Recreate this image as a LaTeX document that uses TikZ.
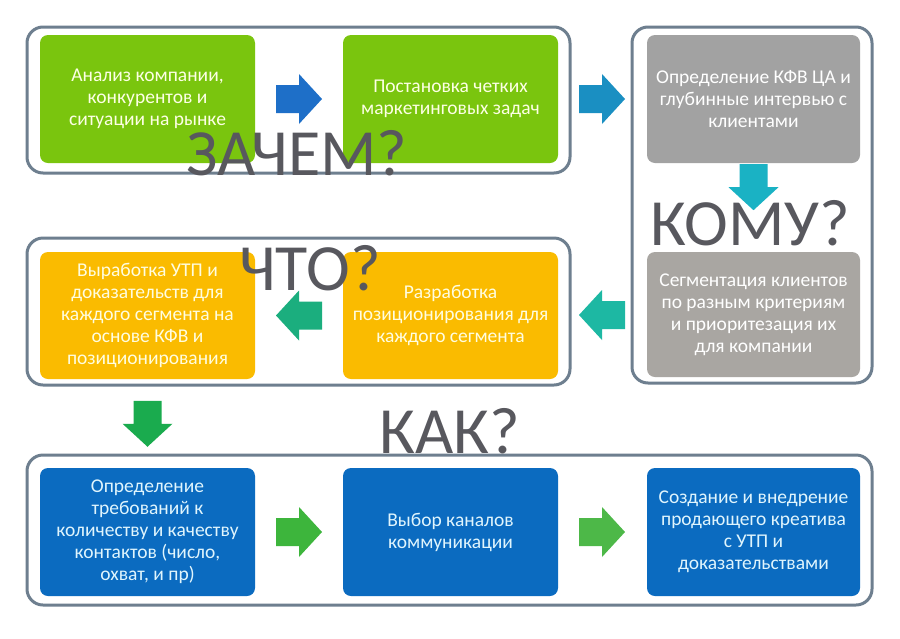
\documentclass[tikz,border=0pt]{standalone}
\usepackage{fontspec}
\setmainfont{Carlito}
\usepackage{color}
\usetikzlibrary{calc}

\definecolor{frameC}{HTML}{6E7F8F}
\definecolor{greenC}{HTML}{7AC50E}
\definecolor{grayC}{HTML}{A2A2A2}
\definecolor{grayD}{HTML}{A9A6A2}
\definecolor{yellowC}{HTML}{FABB00}
\definecolor{blueC}{HTML}{0B6BC0}
\definecolor{qC}{HTML}{58585E}
\definecolor{arA}{HTML}{1E6FC8}
\definecolor{arB}{HTML}{1A8FC2}
\definecolor{arC}{HTML}{1AB2C4}
\definecolor{arD}{HTML}{1BAE7E}
\definecolor{arE}{HTML}{1DB8A3}
\definecolor{arF}{HTML}{1AAB4E}
\definecolor{arG}{HTML}{3DB53C}
\definecolor{arH}{HTML}{4DB848}

\begin{document}
\begin{tikzpicture}
	[
		x=1pt, y=-1pt,
		F/.style = {rectangle, rounded corners=16pt, draw=frameC, line width=3pt, fill=white},
		B/.style = {rectangle, rounded corners=8pt, align=center, draw=none, inner sep=0pt,
			minimum width=215pt, minimum height=128pt, font=\fontsize{19.5}{22}\selectfont},
		Q/.style = {rectangle, draw=none, fill=none, inner sep=0pt, anchor=base, text=qC,
			font=\fontsize{66}{66}\selectfont},
		barrow/.pic = {\fill (-23,-14) -- (0,-14) -- (0,-25) -- (23,0) -- (0,25) -- (0,14) -- (-23,14) -- cycle;},
	]

	\useasboundingbox[fill=white] (0,0) rectangle (900,638);

	% frames
	\node[F, minimum width=543pt, minimum height=146pt] (f1) at (298.5,100.0) {};
	\node[F, minimum width=240pt, minimum height=356pt] (f2) at (752.0,205.0) {};
	\node[F, minimum width=543pt, minimum height=147pt] (f3) at (298.5,311.5) {};
	\node[F, minimum width=845pt, minimum height=150pt] (f4) at (449.5,530.0) {};

	% green boxes
	\node[B, fill=greenC, text=green!6!yellow!10!white] (g1) at (147.5, 99.0) {Анализ компании,\\конкурентов и\\ситуации на рынке};
	\node[B, fill=greenC, text=green!6!yellow!10!white] (g2) at (450.5, 99.0) {Постановка четких\\маркетинговых задач};

	% gray boxes
	\node[B, fill=grayC, text=white, minimum width=213pt] (c1) at (753.5, 99.0) {Определение КФВ ЦА и\\глубинные интервью с\\клиентами};
	\node[B, fill=grayD, text=white, minimum width=213pt, minimum height=125pt] (c2) at (753.5,314.5) {Сегментация клиентов\\по разным критериям\\и приоритезация их\\для компании};

	% yellow boxes
	\node[B, fill=yellowC, text=yellow!12!white, minimum height=127pt] (y1) at (147.5,315.5) {Выработка УТП и\\доказательств для\\каждого сегмента на\\основе КФВ и\\позиционирования};
	\node[B, fill=yellowC, text=yellow!12!white, minimum height=127pt] (y2) at (450.5,315.5) {Разработка\\позиционирования для\\каждого сегмента};

	% blue boxes
	\node[B, fill=blueC, text=cyan!12!white] (b1) at (147.5,532.0) {Определение\\требований к\\количеству и качеству\\контактов (число,\\охват, и пр)};
	\node[B, fill=blueC, text=cyan!12!white] (b2) at (450.5,532.0) {Выбор каналов\\коммуникации};
	\node[B, fill=blueC, text=cyan!12!white, minimum width=213pt] (b3) at (753.5,532.0) {Создание и внедрение\\продающего креатива\\с УТП и\\доказательствами};

	% block arrows
	\foreach \from/\to/\col/\ang in {g1/g2/arA/0,g2/c1/arB/0,c2/y2/arE/180,y2/y1/arD/180,y1/b1/arF/-90,b1/b2/arG/0,b2/b3/arH/0}
	\pic[fill=\col, rotate=\ang] at ($(\from)!.5!(\to)$) {barrow};
	\pic[fill=arC, rotate=-90] at ($(c1.south)+(0,24)$) {barrow};

	% questions
	\node[Q] (why)  at (297,175) {ЗАЧЕМ?};
	\node[Q] (whom) at (750,245) {КОМУ?};
	\node[Q] (what) at (310,290) {ЧТО?};
	\node[Q] (how)  at (450,453) {КАК?};

\end{tikzpicture}
\end{document}
